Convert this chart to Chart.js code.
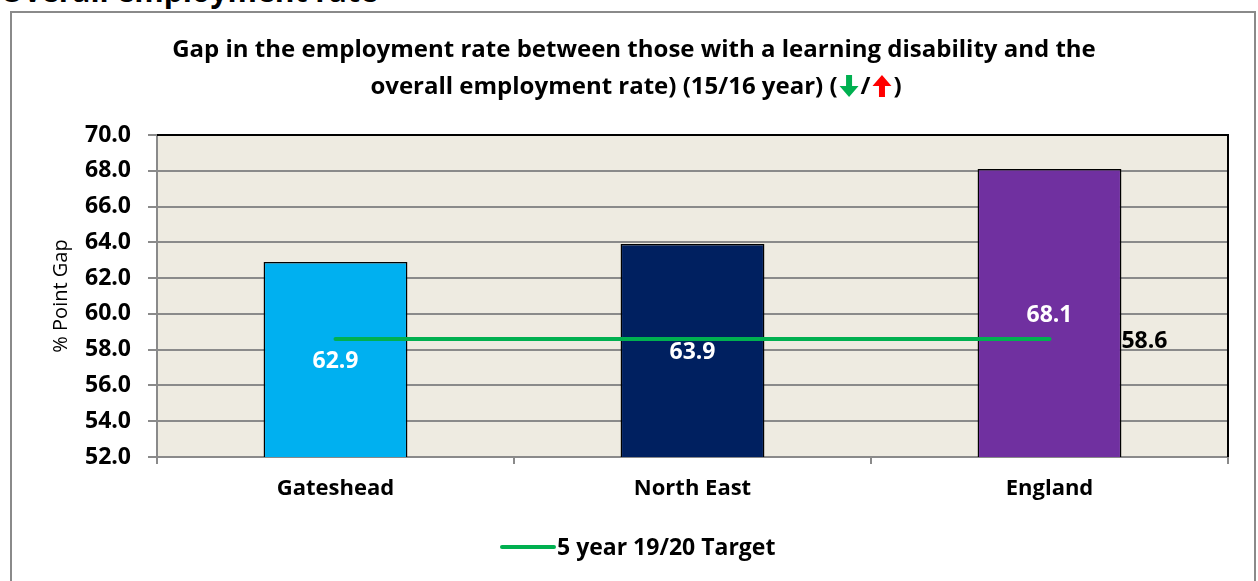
<!DOCTYPE html>
<html>
<head>
<meta charset="utf-8">
<script src="https://cdn.jsdelivr.net/npm/chart.js@4.4.1/dist/chart.umd.min.js"></script>
<style>
  body { margin: 0; background: #fff; font-family: "Open Sans", sans-serif; }
  #heading { position: absolute; left: 0; top: -29px; font: bold 30px/40px "Open Sans", sans-serif; color: #000; white-space: nowrap; }
  #frame { position: absolute; left: 10px; top: 11px; width: 1242px; height: 620px; border: 2px solid #8a8a8a; }
  #chart { position: absolute; left: 0; top: 0; }
</style>
</head>
<body>
<div id="heading">Overall employment rate</div>
<div id="frame"></div>
<canvas id="chart" width="1258" height="581"></canvas>
<script>
// Areas and the gap values for 15/16
const areas = ['Gateshead', 'North East', 'England'];
const gapValues = [62.9, 63.9, 68.1];
const targetValues = [58.6, 58.6, 58.6];
const barColours = ['#00B0F0', '#002060', '#7030A0'];
const yTicks = { min: 52, max: 70, step: 2 };

const titleLine1 = 'Gap in the employment rate between those with a learning disability and the';
const titleLine2 = 'overall employment rate) (15/16 year) (';
const targetLabel = '5 year 19/20 Target';

const FONT = '"Open Sans", Lato, sans-serif';

// thick block arrow, pointing down (dir=1) or up (dir=-1)
function drawArrow(ctx, cx, cy, dir, colour) {
    const h = 22, shaft = 6, head = 19, headH = 11;
    ctx.save();
    ctx.fillStyle = colour;
    ctx.beginPath();
    const tip = cy + dir * h / 2;
    const tail = cy - dir * h / 2;
    const neck = tip - dir * headH;
    ctx.moveTo(cx - shaft / 2, tail);
    ctx.lineTo(cx + shaft / 2, tail);
    ctx.lineTo(cx + shaft / 2, neck);
    ctx.lineTo(cx + head / 2, neck);
    ctx.lineTo(cx, tip);
    ctx.lineTo(cx - head / 2, neck);
    ctx.lineTo(cx - shaft / 2, neck);
    ctx.closePath();
    ctx.fill();
    ctx.restore();
}

const decorations = {
    id: 'decorations',
    beforeDraw(chart) {
        const { ctx, chartArea: a } = chart;
        ctx.save();
        ctx.fillStyle = '#EEEBE1';
        ctx.fillRect(a.left, a.top, a.right - a.left, a.bottom - a.top);
        ctx.restore();
    },
    afterDatasetsDraw(chart) {
        const { ctx, chartArea: a } = chart;
        const yScale = chart.scales.y;
        ctx.save();
        // plot area edges
        ctx.strokeStyle = '#000';
        ctx.lineWidth = 2;
        ctx.beginPath();
        ctx.moveTo(a.left, a.top);
        ctx.lineTo(a.right, a.top);
        ctx.lineTo(a.right, a.bottom);
        ctx.stroke();

        // value labels in the middle of each bar
        const bars = chart.getDatasetMeta(0).data;
        const base = yScale.getPixelForValue(yTicks.min);
        ctx.font = 'bold 23px ' + FONT;
        ctx.fillStyle = '#ffffff';
        ctx.textAlign = 'center';
        ctx.textBaseline = 'middle';
        gapValues.forEach((v, i) => {
            const top = yScale.getPixelForValue(v);
            ctx.fillText(v.toFixed(1), bars[i].x, (top + base) / 2 + 2);
        });

        // target label next to the last point
        const last = gapValues.length - 1;
        const halfBar = Math.abs(bars[last].width || 144) / 2;
        ctx.fillStyle = '#000';
        ctx.textAlign = 'left';
        ctx.fillText(targetValues[last].toFixed(1), bars[last].x + halfBar, yScale.getPixelForValue(targetValues[last]) + 3);
        ctx.restore();
    },
    afterDraw(chart) {
        const { ctx } = chart;
        ctx.save();
        ctx.fillStyle = '#000';
        ctx.font = 'bold 24px ' + FONT;
        ctx.textBaseline = 'alphabetic';
        ctx.textAlign = 'center';
        ctx.fillText(titleLine1, 634, 57);

        // second title line with coloured arrows
        ctx.textAlign = 'left';
        const arrowW = 23;
        const w1 = ctx.measureText(titleLine2).width;
        const wSlash = ctx.measureText('/').width;
        const wClose = ctx.measureText(')').width;
        const total = w1 + arrowW + wSlash + arrowW + wClose;
        let x = 636 - total / 2;
        ctx.fillText(titleLine2, x, 94);
        x += w1;
        drawArrow(ctx, x + arrowW / 2, 86, 1, '#00B050');
        x += arrowW;
        ctx.fillText('/', x, 94);
        x += wSlash;
        drawArrow(ctx, x + arrowW / 2, 86, -1, '#FF0000');
        x += arrowW;
        ctx.fillText(')', x, 94);

        // legend
        ctx.strokeStyle = '#00B050';
        ctx.lineWidth = 4;
        ctx.lineCap = 'round';
        ctx.beginPath();
        ctx.moveTo(502, 547);
        ctx.lineTo(554, 547);
        ctx.stroke();
        ctx.font = 'bold 23px ' + FONT;
        ctx.textBaseline = 'middle';
        ctx.fillText(targetLabel, 557, 548);
        ctx.restore();
    }
};

new Chart(document.getElementById('chart').getContext('2d'), {
    data: {
        labels: areas,
        datasets: [{
            type: 'bar',
            label: 'Gap',
            data: gapValues,
            backgroundColor: barColours,
            borderColor: '#000',
            borderWidth: 1.5,
            categoryPercentage: 1,
            barPercentage: 0.403,
            order: 1
        }, {
            type: 'line',
            label: targetLabel,
            data: targetValues,
            borderColor: '#00B050',
            borderWidth: 4,
            borderCapStyle: 'round',
            pointRadius: 0,
            order: 0
        }]
    },
    options: {
        responsive: false,
        animation: false,
        devicePixelRatio: 1,
        layout: { padding: { top: 135, right: 30, bottom: 0, left: 0 } },
        plugins: {
            legend: { display: false },
            title: { display: false },
            tooltip: { enabled: false }
        },
        scales: {
            x: {
                afterFit: s => { s.height = 124; },
                grid: { offset: true, drawOnChartArea: false, color: '#8a8a8a', lineWidth: 2, tickLength: 7 },
                border: { color: '#8a8a8a', width: 2 },
                ticks: { color: '#000', padding: 12, font: { family: FONT, size: 22, weight: 'bold' } }
            },
            y: {
                min: yTicks.min,
                max: yTicks.max,
                afterFit: s => { s.width = 157; },
                ticks: {
                    stepSize: yTicks.step,
                    color: '#000',
                    padding: 17,
                    font: { family: FONT, size: 23, weight: 'bold' },
                    callback: v => v.toFixed(1)
                },
                grid: { color: '#8a8a8a', lineWidth: 2, tickLength: 9 },
                border: { color: '#8a8a8a', width: 2 },
                title: {
                    display: true,
                    text: '% Point Gap',
                    color: '#000',
                    font: { family: FONT, size: 20 },
                    padding: { top: 49, bottom: 0 }
                }
            }
        }
    },
    plugins: [decorations]
});
</script>
</body>
</html>
